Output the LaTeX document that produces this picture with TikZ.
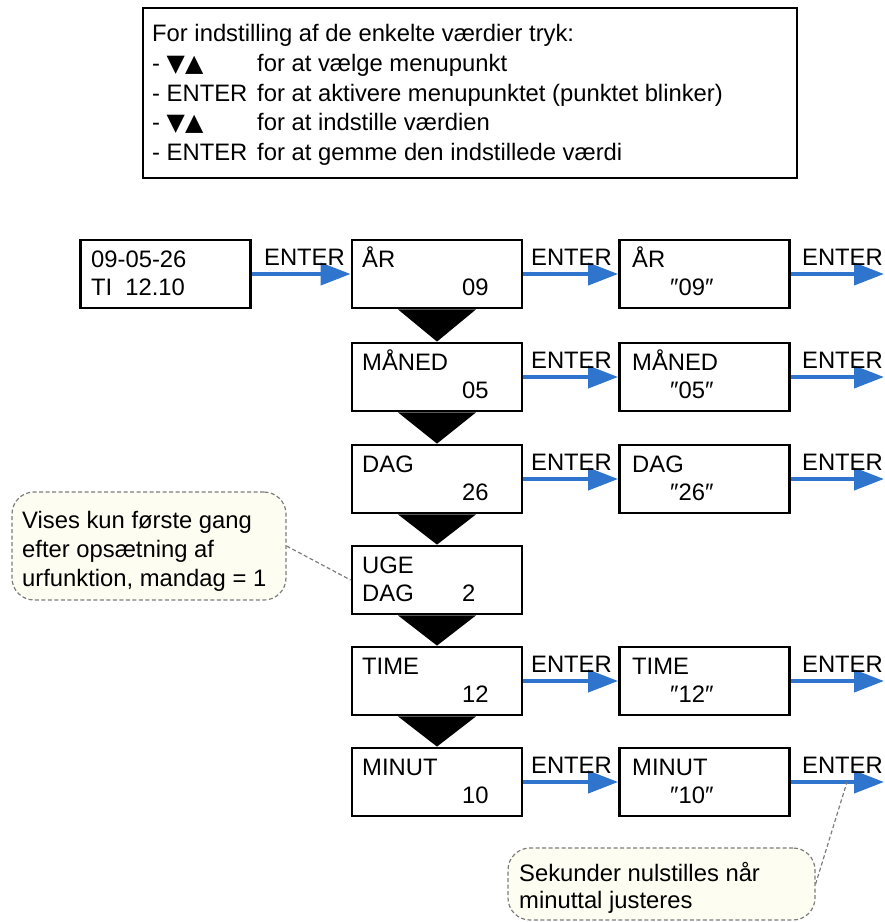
\documentclass[tikz,border=0pt]{standalone}
\usepackage{fontspec}
\setmainfont{Liberation Sans}
\newfontfamily\arrowfont{DejaVu Sans}
\usetikzlibrary{positioning,calc,arrows.meta}
\definecolor{enterblue}{RGB}{47,117,205}
\definecolor{notefill}{RGB}{253,253,242}
\definecolor{notegray}{RGB}{125,125,125}

\begin{document}
\begin{tikzpicture}[x=1pt,y=-1pt,font=\fontsize{23.8}{29}\selectfont]
        \tikzstyle{lcd}=[rectangle, draw, line width=2.8pt, minimum width=170pt, minimum height=68pt, inner sep=0pt]
        \tikzstyle{txt}=[inner sep=0pt, anchor=base west]
        \tikzstyle{key}=[inner sep=0pt, anchor=base east]
        \tikzstyle{enter}=[color=enterblue, line width=4pt, -{Triangle[length=30pt,width=22pt]}]
        \tikzstyle{note}=[rectangle, rounded corners=22pt, draw=notegray, dash pattern=on 4pt off 2.5pt, line width=1.2pt, fill=notefill, inner sep=0pt]
        \tikzstyle{pointer}=[draw=notegray, dash pattern=on 4pt off 2.5pt, line width=1.2pt]

        \useasboundingbox (0,0) rectangle (885,922);

        \node[draw, line width=2.5pt, minimum width=654pt, minimum height=170pt] (info) at (470,93) {};
        \node[txt] (info1) at (152,41.5) {For indstilling af de enkelte værdier tryk:};
        \node[txt] (info2) at (152,71.5) {\makebox[105pt][l]{- {\arrowfont ▼▲}}for at vælge menupunkt};
        \node[txt] (info3) at (152,101) {\makebox[105pt][l]{- ENTER}for at aktivere menupunktet (punktet blinker)};
        \node[txt] (info4) at (152,130.5) {\makebox[105pt][l]{- {\arrowfont ▼▲}}for at indstille værdien};
        \node[txt] (info5) at (152,160) {\makebox[105pt][l]{- ENTER}for at gemme den indstillede værdi};

        \node[lcd] (clock) at (165.5,274) {};
        \node[txt] (clock-l) at (91,267) {09-05-26};
        \node[txt] (clock-v) at (91,295) {TI\hspace{13pt}12.10};

        \node[lcd] (ar) at (437,274) {};
        \node[txt] (ar-l) at (362,267) {ÅR};
        \node[txt] (ar-v) at (462,295) {09};
        \node[lcd] (ar-set) at (704.5,274) {};
        \node[txt] (ar-set-l) at (632,267) {ÅR};
        \node[txt] (ar-set-v) at (670,295) {″09″};
        \coordinate (ar-end) at (884,274);

        \node[lcd] (maaned) at (437,377) {};
        \node[txt] (maaned-l) at (362,370) {MÅNED};
        \node[txt] (maaned-v) at (462,398) {05};
        \node[lcd] (maaned-set) at (704.5,377) {};
        \node[txt] (maaned-set-l) at (632,370) {MÅNED};
        \node[txt] (maaned-set-v) at (670,398) {″05″};
        \coordinate (maaned-end) at (884,377);

        \node[lcd] (dag) at (437,479) {};
        \node[txt] (dag-l) at (362,472) {DAG};
        \node[txt] (dag-v) at (462,500) {26};
        \node[lcd] (dag-set) at (704.5,479) {};
        \node[txt] (dag-set-l) at (632,472) {DAG};
        \node[txt] (dag-set-v) at (670,500) {″26″};
        \coordinate (dag-end) at (884,479);

        \node[lcd] (uge) at (437,580) {};
        \node[txt] (uge-l) at (362,573) {UGE};
        \node[txt] (uge-m) at (362,601) {DAG};
        \node[txt] (uge-v) at (462,601) {2};

        \node[lcd] (time) at (437,681) {};
        \node[txt] (time-l) at (362,674) {TIME};
        \node[txt] (time-v) at (462,702) {12};
        \node[lcd] (time-set) at (704.5,681) {};
        \node[txt] (time-set-l) at (632,674) {TIME};
        \node[txt] (time-set-v) at (670,702) {″12″};
        \coordinate (time-end) at (884,681);

        \node[lcd] (minut) at (437,782) {};
        \node[txt] (minut-l) at (362,775) {MINUT};
        \node[txt] (minut-v) at (462,803) {10};
        \node[lcd] (minut-set) at (704.5,782) {};
        \node[txt] (minut-set-l) at (632,775) {MINUT};
        \node[txt] (minut-set-v) at (670,803) {″10″};
        \coordinate (minut-end) at (884,782);

        \fill ($(ar.south)+(-39,0)$) -- ($(ar.south)+(39,0)$) -- (maaned.north) -- cycle;
        \fill ($(maaned.south)+(-39,0)$) -- ($(maaned.south)+(39,0)$) -- (dag.north) -- cycle;
        \fill ($(dag.south)+(-39,0)$) -- ($(dag.south)+(39,0)$) -- (uge.north) -- cycle;
        \fill ($(uge.south)+(-39,0)$) -- ($(uge.south)+(39,0)$) -- (time.north) -- cycle;
        \fill ($(time.south)+(-39,0)$) -- ($(time.south)+(39,0)$) -- (minut.north) -- cycle;

        \draw[enter] (clock.east) -- (ar.west);
        \node[key] (clock-key) at (345,265) {ENTER};
        \draw[enter] (ar.east) -- (ar-set.west);
        \node[key] (ar-key) at (612,265) {ENTER};
        \draw[enter] (ar-set.east) -- (ar-end);
        \node[key] (ar-set-key) at (883,265) {ENTER};

        \draw[enter] (maaned.east) -- (maaned-set.west);
        \node[key] (maaned-key) at (612,368) {ENTER};
        \draw[enter] (maaned-set.east) -- (maaned-end);
        \node[key] (maaned-set-key) at (883,368) {ENTER};

        \draw[enter] (dag.east) -- (dag-set.west);
        \node[key] (dag-key) at (612,470) {ENTER};
        \draw[enter] (dag-set.east) -- (dag-end);
        \node[key] (dag-set-key) at (883,470) {ENTER};

        \draw[enter] (time.east) -- (time-set.west);
        \node[key] (time-key) at (612,672) {ENTER};
        \draw[enter] (time-set.east) -- (time-end);
        \node[key] (time-set-key) at (883,672) {ENTER};

        \draw[enter] (minut.east) -- (minut-set.west);
        \node[key] (minut-key) at (612,773) {ENTER};
        \draw[enter] (minut-set.east) -- (minut-end);
        \node[key] (minut-set-key) at (883,773) {ENTER};

        \node[note, minimum width=274pt, minimum height=108pt] (wk-note) at (149,546) {};
        \node[txt] (wk-note1) at (22,528.5) {Vises kun første gang};
        \node[txt] (wk-note2) at (22,557.5) {efter opsætning af};
        \node[txt] (wk-note3) at (22,586.5) {urfunktion, mandag = 1};
        \draw[pointer] (wk-note.east) -- (uge.west);

        \coordinate (sek) at (847,782);
        \node[note, minimum width=307pt, minimum height=72pt] (sek-note) at (661.5,884) {};
        \node[txt] (sek-note1) at (519,881) {Sekunder nulstilles når};
        \node[txt] (sek-note2) at (519,908) {minuttal justeres};
        \draw[pointer] (sek-note.east) -- (sek);
\end{tikzpicture}
\end{document}
